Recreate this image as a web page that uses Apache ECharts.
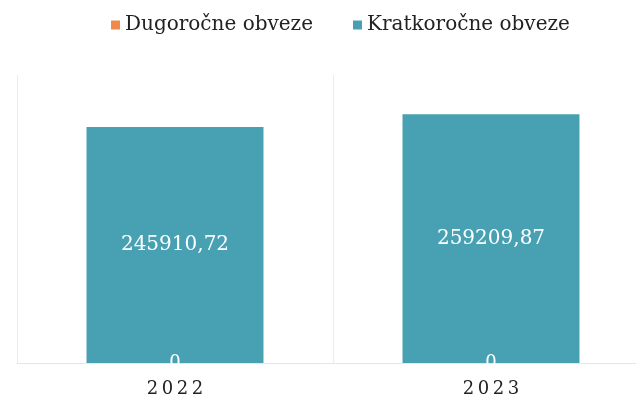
<!DOCTYPE html>
<html>
<head>
<meta charset="utf-8">
<script src="https://cdn.jsdelivr.net/npm/echarts@6/dist/echarts.min.js"></script>
<style>
  html, body { margin: 0; padding: 0; background: #fff; }
  #chart { width: 636px; height: 401px; }
</style>
</head>
<body>
<div id="chart"></div>
<script>
const years = ['2022', '2023'];
const dugorocne = [0, 0];
const kratkorocne = [245910.72, 259209.87];

const fmt = v => (v === 0 ? '0' : v.toFixed(2).replace('.', ','));

const chart = echarts.init(document.getElementById('chart'));
chart.setOption({
  animation: false,
  textStyle: { fontFamily: 'DejaVu Serif' },
  legend: {
    top: 10,
    left: 106,
    itemWidth: 9,
    itemHeight: 9,
    itemGap: 40,
    icon: 'rect',
    textStyle: { fontSize: 20, color: '#222', fontFamily: 'DejaVu Serif' },
    data: ['Dugoročne obveze', 'Kratkoročne obveze']
  },
  grid: { left: 17, width: 632, top: 75, bottom: 38, outerBoundsMode: 'none', containLabel: false },
  xAxis: {
    type: 'category',
    data: years,
    axisLine: { lineStyle: { color: '#e6e6e6', width: 1 } },
    axisTick: { show: false },
    splitLine: { show: true, lineStyle: { color: '#ececec' } },
    axisLabel: {
      fontSize: 18, color: '#222', margin: 17, fontFamily: 'DejaVu Serif',
      formatter: v => v.split('').join('\u2009')
    }
  },
  yAxis: {
    type: 'value',
    min: 0,
    max: 300000,
    show: false,
    splitLine: { show: false }
  },
  series: [
    {
      name: 'Dugoročne obveze',
      type: 'bar',
      stack: 'ob',
      barWidth: '56%',
      data: dugorocne,
      itemStyle: { color: '#f0894a' },
      label: { show: true, position: 'inside', color: '#fff', fontSize: 18, formatter: p => fmt(p.value) }
    },
    {
      name: 'Kratkoročne obveze',
      type: 'bar',
      stack: 'ob',
      barWidth: '56%',
      data: kratkorocne,
      itemStyle: { color: '#47a1b3' },
      z: 1,
      label: { show: true, position: 'inside', color: '#fff', fontSize: 20, formatter: p => fmt(p.value) }
    }
  ]
});
</script>
</body>
</html>
